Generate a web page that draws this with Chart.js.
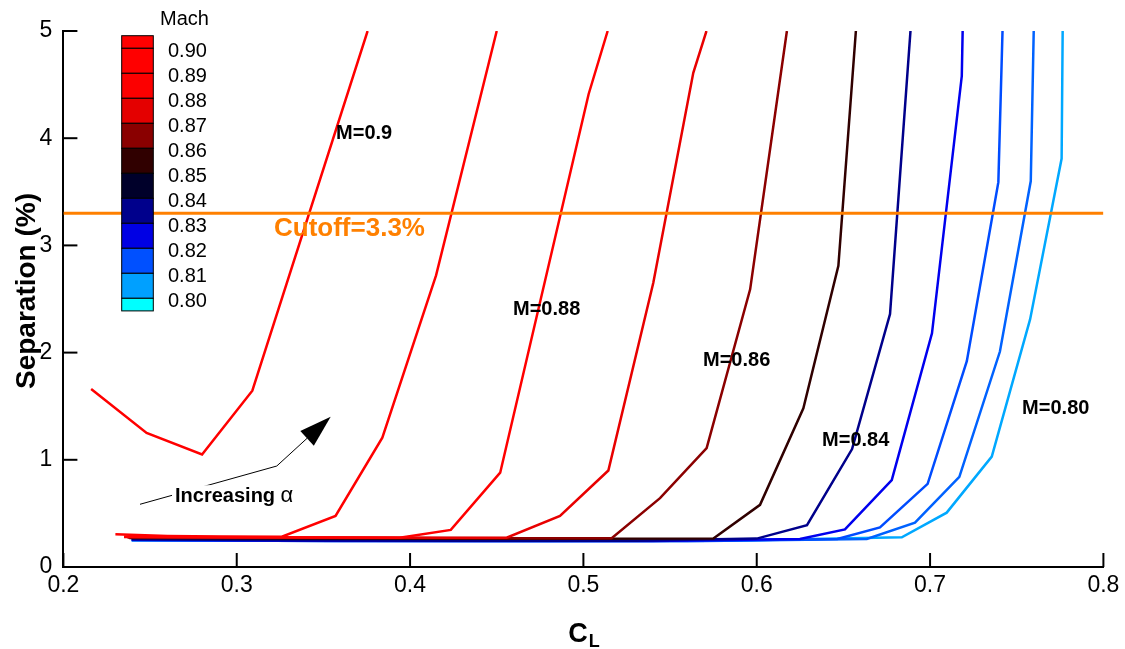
<!DOCTYPE html>
<html>
<head>
<meta charset="utf-8">
<title>Separation vs CL</title>
<script src="https://cdn.jsdelivr.net/npm/chart.js@4.4.1/dist/chart.umd.min.js"></script>
<style>
  html, body { margin: 0; padding: 0; background: #fff; }
  #wrap { width: 1125px; height: 649px; position: relative; }
</style>
</head>
<body>
<div id="wrap"><canvas id="sepChart"></canvas></div>
<script>
// ==========================================
// Separation (%) vs CL for a Mach sweep 0.80 - 0.90
// ==========================================
const FONT = '"Liberation Sans", Arial, Helvetica, sans-serif';

const machNames = ['0.90', '0.89', '0.88', '0.87', '0.86', '0.85', '0.84', '0.83', '0.82', '0.81', '0.80'];
const lineColors = ['#ff0000', '#ff0000', '#ff0000', '#e80000', '#8b0000', '#300000', '#00008b', '#0000ee', '#004cff', '#0062ff', '#00a8ff'];

const clM090 = [0.216, 0.248, 0.280, 0.309, 0.3755];
const sepM090 = [1.66, 1.25, 1.05, 1.645, 5.0];
const clM089 = [0.230, 0.260, 0.290, 0.326, 0.357, 0.384, 0.415, 0.450];
const sepM089 = [0.305, 0.290, 0.285, 0.283, 0.477, 1.206, 2.72, 5.0];
const clM088 = [0.235, 0.270, 0.310, 0.350, 0.394, 0.4235, 0.452, 0.503, 0.514];
const sepM088 = [0.283, 0.279, 0.277, 0.276, 0.274, 0.346, 0.88, 4.41, 5.0];
const clM087 = [0.235, 0.300, 0.360, 0.420, 0.4557, 0.4865, 0.5144, 0.5403, 0.5634, 0.571];
const sepM087 = [0.280, 0.276, 0.275, 0.274, 0.274, 0.477, 0.90, 2.65, 4.61, 5.0];
const clM086 = [0.237, 0.320, 0.400, 0.470, 0.5163, 0.5442, 0.5711, 0.5962, 0.6174];
const sepM086 = [0.275, 0.272, 0.270, 0.268, 0.268, 0.642, 1.11, 2.59, 5.0];
const clM085 = [0.238, 0.330, 0.420, 0.500, 0.575, 0.6019, 0.6269, 0.6471, 0.6572];
const sepM085 = [0.270, 0.266, 0.264, 0.264, 0.265, 0.58, 1.48, 2.81, 5.0];
const clM084 = [0.2394, 0.330, 0.430, 0.530, 0.600, 0.629, 0.655, 0.6769, 0.6887];
const sepM084 = [0.259, 0.250, 0.246, 0.246, 0.265, 0.39, 1.10, 2.36, 5.0];
const clM083 = [0.2394, 0.340, 0.440, 0.540, 0.6249, 0.6509, 0.6779, 0.7011, 0.7183, 0.7188];
const sepM083 = [0.255, 0.245, 0.243, 0.243, 0.262, 0.35, 0.81, 2.18, 4.58, 5.0];
const clM082 = [0.2394, 0.350, 0.460, 0.560, 0.6465, 0.6711, 0.6986, 0.7212, 0.7394, 0.7418];
const sepM082 = [0.252, 0.243, 0.242, 0.243, 0.262, 0.37, 0.776, 1.92, 3.59, 5.0];
const clM081 = [0.2394, 0.360, 0.470, 0.570, 0.6635, 0.6913, 0.7169, 0.7403, 0.7581, 0.7598];
const sepM081 = [0.250, 0.243, 0.242, 0.243, 0.262, 0.414, 0.84, 2.01, 3.60, 5.0];
const clM080 = [0.2394, 0.370, 0.480, 0.580, 0.6837, 0.7096, 0.7356, 0.7577, 0.7759, 0.7765];
const sepM080 = [0.250, 0.245, 0.243, 0.245, 0.277, 0.507, 1.03, 2.31, 3.81, 5.0];

const clSeries = [clM090, clM089, clM088, clM087, clM086, clM085, clM084, clM083, clM082, clM081, clM080];
const sepSeries = [sepM090, sepM089, sepM088, sepM087, sepM086, sepM085, sepM084, sepM083, sepM082, sepM081, sepM080];

const cutoffValue = 3.3;
const xTicks = [0.2, 0.3, 0.4, 0.5, 0.6, 0.7, 0.8];
const yTicks = [0, 1, 2, 3, 4, 5];

// curve labels (left edge / vertical middle, data units)
const curveLabels = ['M=0.9', 'M=0.88', 'M=0.86', 'M=0.84', 'M=0.80'];
const curveLabelCL = [0.3573, 0.4594, 0.569, 0.6377, 0.7531];
const curveLabelSep = [4.04, 2.40, 1.93, 1.18, 1.48];

// "Increasing alpha" arrow path (last point = tip)
const arrowCL = [0.2442, 0.3231, 0.3542];
const arrowSep = [0.585, 0.942, 1.402];
const arrowTextCL = 0.2644, arrowTextSep = 0.66;

// colour bar: cell colours top->bottom, level labels
const barColors = ['#ff0000', '#ff0000', '#fc0000', '#e40000', '#8a0000', '#300000', '#00002a', '#00008c', '#0000e4', '#0050ff', '#00a0ff', '#00ffff'];
const barLevels = ['0.90', '0.89', '0.88', '0.87', '0.86', '0.85', '0.84', '0.83', '0.82', '0.81', '0.80'];

const datasets = [{
  label: 'Cutoff',
  data: [{ x: 0.2, y: cutoffValue }, { x: 0.8, y: cutoffValue }],
  borderColor: '#ff8000', borderWidth: 3, pointRadius: 0, showLine: true
}];
clSeries.forEach((cl, i) => {
  datasets.push({
    label: 'M=' + machNames[i],
    data: cl.map((c, k) => ({ x: c, y: sepSeries[i][k] })),
    borderColor: lineColors[i], borderWidth: 2.5, pointRadius: 0,
    showLine: true, tension: 0, borderJoinStyle: 'miter'
  });
});

const decorations = {
  id: 'decorations',
  afterDraw(chart) {
    const { ctx, chartArea: a, scales: { x, y } } = chart;
    ctx.save();

    // inward tick marks
    ctx.strokeStyle = '#000'; ctx.lineWidth = 2;
    xTicks.forEach(v => { const px = x.getPixelForValue(v); ctx.beginPath(); ctx.moveTo(px, a.bottom); ctx.lineTo(px, a.bottom - 14); ctx.stroke(); });
    yTicks.forEach(v => { const py = y.getPixelForValue(v); ctx.beginPath(); ctx.moveTo(a.left, py); ctx.lineTo(a.left + 14, py); ctx.stroke(); });

    // axis titles
    ctx.fillStyle = '#000';
    ctx.textBaseline = 'alphabetic'; ctx.textAlign = 'left';
    ctx.font = 'bold 27px ' + FONT;
    const cw = ctx.measureText('C').width;
    ctx.font = 'bold 18px ' + FONT;
    const lw = ctx.measureText('L').width;
    const cx = (a.left + a.right) / 2 - (cw + lw) / 2;
    ctx.font = 'bold 27px ' + FONT; ctx.fillText('C', cx, 642);
    ctx.font = 'bold 18px ' + FONT; ctx.fillText('L', cx + cw + 1, 647);

    ctx.save();
    ctx.translate(35, (a.top + a.bottom) / 2 - 8);
    ctx.rotate(-Math.PI / 2);
    ctx.textAlign = 'center'; ctx.textBaseline = 'alphabetic';
    ctx.font = 'bold 28px ' + FONT;
    ctx.fillText('Separation (%)', 0, 0);
    ctx.restore();

    // curve labels
    ctx.textAlign = 'left'; ctx.textBaseline = 'middle';
    ctx.font = 'bold 20px ' + FONT; ctx.fillStyle = '#000';
    curveLabels.forEach((t, i) => ctx.fillText(t, x.getPixelForValue(curveLabelCL[i]), y.getPixelForValue(curveLabelSep[i])));

    ctx.font = 'bold 26px ' + FONT; ctx.fillStyle = '#ff8000';
    ctx.fillText('Cutoff=3.3%', x.getPixelForValue(0.3215), y.getPixelForValue(3.15));

    // arrow
    const pts = arrowCL.map((c, i) => [x.getPixelForValue(c), y.getPixelForValue(arrowSep[i])]);
    const tip = pts[pts.length - 1], prev = pts[pts.length - 2];
    const ang = Math.atan2(tip[1] - prev[1], tip[0] - prev[0]);
    const headLen = 32, headW = 10;
    const base = [tip[0] - headLen * Math.cos(ang), tip[1] - headLen * Math.sin(ang)];
    ctx.strokeStyle = '#000'; ctx.lineWidth = 1;
    ctx.beginPath(); ctx.moveTo(pts[0][0], pts[0][1]);
    for (let i = 1; i < pts.length - 1; i++) ctx.lineTo(pts[i][0], pts[i][1]);
    ctx.lineTo(base[0], base[1]); ctx.stroke();
    ctx.fillStyle = '#000';
    ctx.beginPath(); ctx.moveTo(tip[0], tip[1]);
    ctx.lineTo(base[0] + headW * Math.sin(ang), base[1] - headW * Math.cos(ang));
    ctx.lineTo(base[0] - headW * Math.sin(ang), base[1] + headW * Math.cos(ang));
    ctx.closePath(); ctx.fill();

    const tx = x.getPixelForValue(arrowTextCL), ty = y.getPixelForValue(arrowTextSep);
    ctx.font = 'bold 20px ' + FONT;
    const w1 = ctx.measureText('Increasing ').width;
    ctx.font = '22px ' + FONT;
    const w2 = ctx.measureText('\u03b1').width;
    ctx.fillStyle = '#fff'; ctx.fillRect(tx - 3, ty - 11, w1 + w2 + 6, 22);
    ctx.fillStyle = '#000'; ctx.textBaseline = 'middle';
    ctx.font = 'bold 20px ' + FONT; ctx.fillText('Increasing ', tx, ty);
    ctx.font = '22px ' + FONT; ctx.fillText('\u03b1', tx + w1, ty);

    // colour bar
    const bl = 121.7, br = 153.3, top = 35.7, cell = 25, half = 12.6;
    let yy = top;
    barColors.forEach((c, i) => {
      const h = (i === 0 || i === barColors.length - 1) ? half : cell;
      ctx.fillStyle = c; ctx.fillRect(bl, yy, br - bl, h);
      ctx.strokeStyle = '#000'; ctx.lineWidth = 1; ctx.strokeRect(bl, yy, br - bl, h);
      yy += h;
    });
    ctx.fillStyle = '#000'; ctx.textAlign = 'left'; ctx.textBaseline = 'middle';
    ctx.font = '20px ' + FONT;
    barLevels.forEach((t, i) => ctx.fillText(t, 168, top + half + i * cell + 3.4));
    ctx.fillText('Mach', 160, 19);

    ctx.restore();
  }
};

new Chart(document.getElementById('sepChart'), {
  type: 'scatter',
  data: { datasets },
  options: {
    responsive: true, maintainAspectRatio: false, animation: false,
    layout: { padding: { top: 31, right: 21.6, left: 0, bottom: 0 } },
    plugins: { legend: { display: false }, tooltip: { enabled: false } },
    scales: {
      x: {
        type: 'linear', min: 0.2, max: 0.8,
        afterFit: s => { s.height = 82; },
        afterBuildTicks: s => { s.ticks = xTicks.map(v => ({ value: v })); },
        ticks: { callback: v => v.toFixed(1), color: '#000', padding: 5, font: { size: 23, family: FONT } },
        grid: { display: true, drawOnChartArea: false, drawTicks: false },
        border: { display: true, color: '#000', width: 2 }
      },
      y: {
        type: 'linear', min: 0, max: 5,
        afterFit: s => { s.width = 63.4; },
        afterBuildTicks: s => { s.ticks = yTicks.map(v => ({ value: v })); },
        ticks: { callback: v => String(v), color: '#000', padding: 11, font: { size: 23, family: FONT } },
        grid: { display: true, drawOnChartArea: false, drawTicks: false },
        border: { display: true, color: '#000', width: 2 }
      }
    }
  },
  plugins: [decorations]
});
</script>
</body>
</html>
